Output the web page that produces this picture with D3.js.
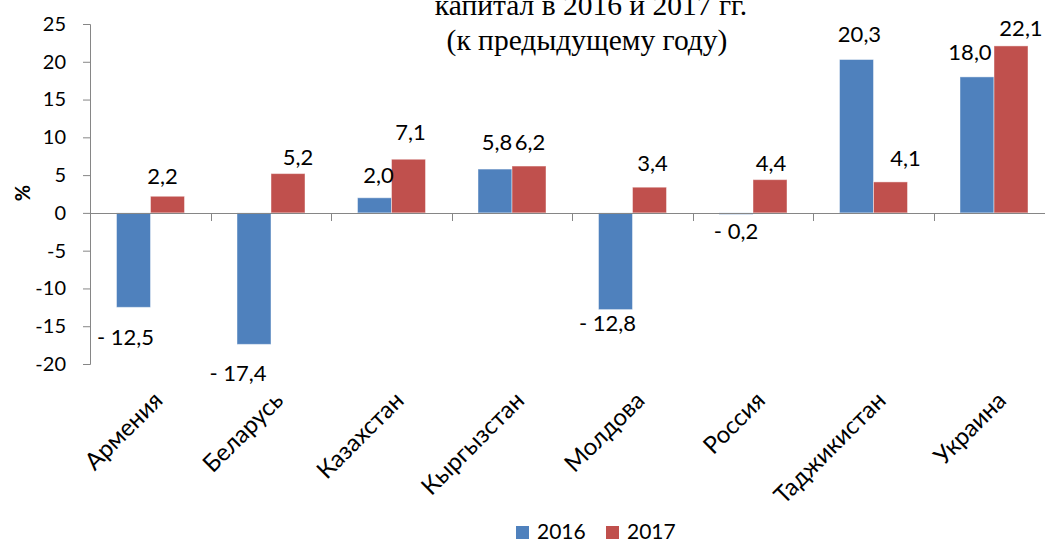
<!DOCTYPE html>
<meta charset="utf-8">
<title>Инвестиции в основной капитал</title>
<script src="https://d3js.org/d3.v7.min.js"></script>
<style>
  body { margin: 0; background: #fff; }
  .tick-label, .cat-label, .value-label, .legend-label {
    font-family: Lato, "Open Sans", sans-serif;
    fill: #000;
  }
  .title { font-family: "Liberation Serif", "Times New Roman", serif; font-size: 29.5px; text-anchor: middle; }
  .axis-line { stroke: #868686; stroke-width: 1; shape-rendering: crispEdges; }
</style>
<body>
<svg width="1045" height="541"></svg>
<script>
  // chart data
  var categories = ["Армения", "Беларусь", "Казахстан", "Кыргызстан", "Молдова", "Россия", "Таджикистан", "Украина"];
  var years = ["2016", "2017"];
  var values2016 = [-12.5, -17.4, 2.0, 5.8, -12.8, -0.2, 20.3, 18.0];
  var values2017 = [2.2, 5.2, 7.1, 6.2, 3.4, 4.4, 4.1, 22.1];
  var yTicks = [-20, -15, -10, -5, 0, 5, 10, 15, 20, 25];
  var titleLines = ["капитал в 2016 и 2017 гг.", "(к предыдущему году)"];

  // hand placed data labels in the original, nudges from default spot
  var nudge2016 = [[-8, 8], [-16, 7], [4, 0], [2, -5], [-8, -8], [0, -5], [3, -3], [-7, -3]];
  var nudge2017 = [[-5, 2], [10, 6], [2, -5], [1, -2], [3, -2], [1, 6], [15, -2], [10, 4]];

  var colors = { "2016": "#4F81BD", "2017": "#C0504D" };

  var svg = d3.select("svg");

  var x0 = d3.scaleBand()
    .domain(categories)
    .range([90, 90 + 8 * 120.5])
    .padding(0);

  var x1 = d3.scaleBand()
    .domain(years)
    .range([26.5, 94.5])
    .padding(0);

  var y = d3.scaleLinear()
    .domain([-20, 25])
    .range([364, 24]);

  var fmt = function (v) {
    var s = d3.format(".1f")(Math.abs(v)).replace(".", ",");
    return v < 0 ? "- " + s : s;
  };

  var rows = categories.map(function (c, i) {
    return { cat: c, i: i, vals: [
      { year: "2016", v: values2016[i], n: nudge2016[i] },
      { year: "2017", v: values2017[i], n: nudge2017[i] }
    ] };
  });

  // title (upper part cut off in the source)
  svg.selectAll("text.title")
    .data(titleLines)
    .enter().append("text")
    .attr("class", "title")
    .attr("x", function (d, i) { return i == 0 ? 591 : 587; })
    .attr("y", function (d, i) { return 15 + i * 35; })
    .text(function (d) { return d; });

  // y axis
  var yAxis = svg.append("g")
    .attr("transform", "translate(90,0)")
    .call(d3.axisLeft(y).tickValues(yTicks).tickSize(7).tickPadding(17).tickFormat(d3.format("d")));
  yAxis.select(".domain").attr("stroke", "#868686");
  yAxis.selectAll(".tick line").attr("stroke", "#868686");
  yAxis.selectAll(".tick text")
    .attr("class", "tick-label")
    .style("font-size", "20px")
    .text(function (d) { return d; });

  svg.append("text")
    .attr("class", "tick-label")
    .attr("transform", "translate(30,193) rotate(-90)")
    .attr("text-anchor", "middle")
    .style("font-size", "20px")
    .style("font-weight", "bold")
    .text("%");

  // bars
  var groups = svg.selectAll("g.cat")
    .data(rows)
    .enter().append("g")
    .attr("class", "cat")
    .attr("transform", function (d) { return "translate(" + x0(d.cat) + ",0)"; });

  groups.selectAll("rect")
    .data(function (d) { return d.vals; })
    .enter().append("rect")
    .attr("x", function (d) { return x1(d.year); })
    .attr("width", x1.bandwidth())
    .attr("y", function (d) { return y(Math.max(0, d.v)); })
    .attr("height", function (d) { return Math.abs(y(d.v) - y(0)); })
    .attr("fill", function (d) { return colors[d.year]; })
    .attr("stroke", "rgba(255,255,255,0.45)")
    .attr("stroke-width", 1);

  // x axis line and ticks at category boundaries
  svg.append("line")
    .attr("class", "axis-line")
    .attr("x1", 90).attr("x2", 1045)
    .attr("y1", Math.round(y(0)) + 0.5).attr("y2", Math.round(y(0)) + 0.5);

  svg.selectAll("line.xtick")
    .data(categories.slice(1))
    .enter().append("line")
    .attr("class", "axis-line xtick")
    .attr("x1", function (d) { return Math.round(x0(d)) + 0.5; })
    .attr("x2", function (d) { return Math.round(x0(d)) + 0.5; })
    .attr("y1", y(0)).attr("y2", y(0) + 8);

  // value labels
  groups.selectAll("text.value-label")
    .data(function (d) { return d.vals; })
    .enter().append("text")
    .attr("class", "value-label")
    .attr("text-anchor", "middle")
    .attr("dy", "0.35em")
    .style("font-size", "22px")
    .attr("x", function (d) { return x1(d.year) + x1.bandwidth() / 2 + d.n[0]; })
    .attr("y", function (d) { return (d.v >= 0 ? y(d.v) - 22 : y(d.v) + 22) + d.n[1]; })
    .text(function (d) { return fmt(d.v); });

  // category labels
  svg.selectAll("text.cat-label")
    .data(categories)
    .enter().append("text")
    .attr("class", "cat-label")
    .attr("text-anchor", "end")
    .attr("dy", "0.35em")
    .style("font-size", "24px")
    .attr("transform", function (d) {
      return "translate(" + (x0(d) + x0.bandwidth() / 2 + 8) + ",396) rotate(-45)";
    })
    .text(function (d) { return d; });

  // legend
  var legend = svg.selectAll("g.legend")
    .data(years)
    .enter().append("g")
    .attr("class", "legend")
    .attr("transform", function (d, i) { return "translate(" + (516 + i * 90) + ",526)"; });

  legend.append("rect")
    .attr("width", 13).attr("height", 13)
    .attr("fill", function (d) { return colors[d]; });

  legend.append("text")
    .attr("class", "legend-label")
    .attr("x", 21).attr("y", 12.5)
    .style("font-size", "21px")
    .text(function (d) { return d; });
</script>
</body>
